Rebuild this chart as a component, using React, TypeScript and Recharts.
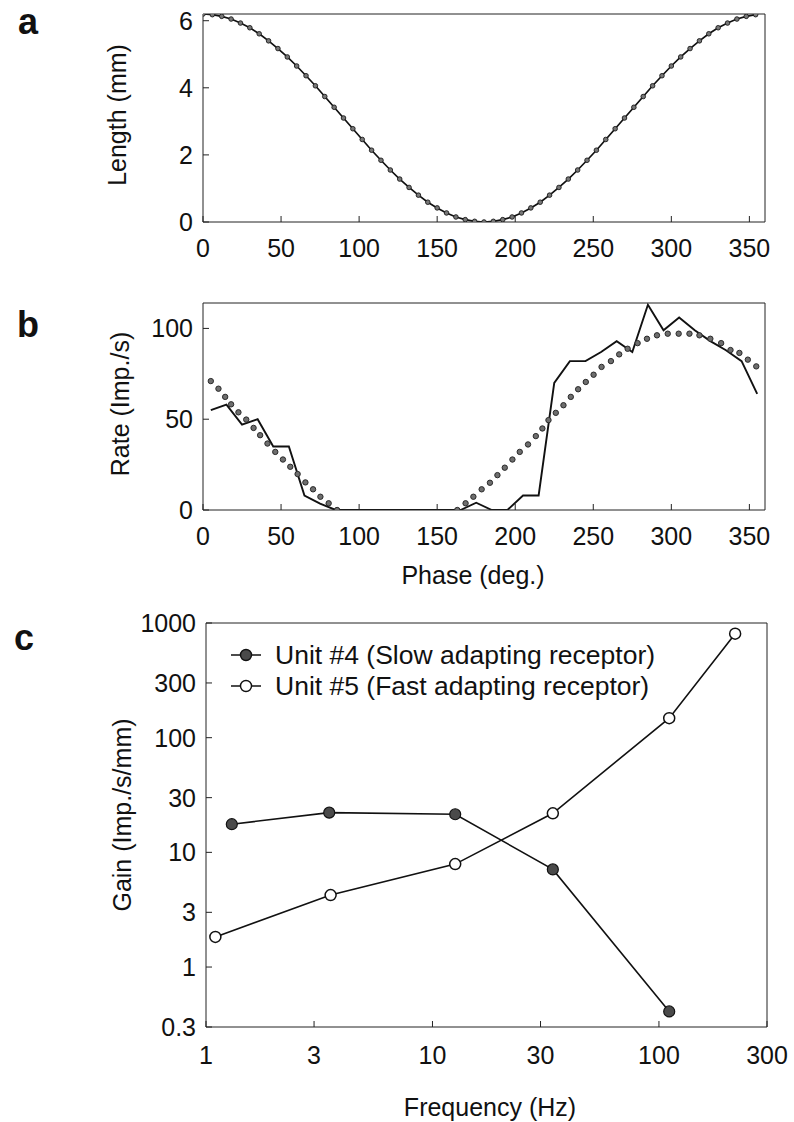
import React from 'react';
import { LineChart, Line, XAxis, YAxis } from 'recharts';

const FONT = "'Liberation Sans', Arial, Helvetica, sans-serif";

// Panel a: stimulus length vs phase
const lengthPhase = [0, 6, 12, 18, 24, 30, 36, 42, 48, 54, 60, 66, 72, 78, 84, 90, 96, 102, 108, 114, 120, 126, 132, 138, 144, 150, 156, 162, 168, 174, 180, 186, 192, 198, 204, 210, 216, 222, 228, 234, 240, 246, 252, 258, 264, 270, 276, 282, 288, 294, 300, 306, 312, 318, 324, 330, 336, 342, 348, 354];
const lengthMm = [6.2, 6.18, 6.13, 6.05, 5.93, 5.79, 5.61, 5.4, 5.17, 4.92, 4.65, 4.36, 4.06, 3.74, 3.42, 3.1, 2.78, 2.46, 2.14, 1.84, 1.55, 1.28, 1.03, 0.8, 0.59, 0.42, 0.27, 0.15, 0.07, 0.02, 0.0, 0.02, 0.07, 0.15, 0.27, 0.42, 0.59, 0.8, 1.03, 1.28, 1.55, 1.84, 2.14, 2.46, 2.78, 3.1, 3.42, 3.74, 4.06, 4.36, 4.65, 4.92, 5.17, 5.4, 5.61, 5.79, 5.93, 6.05, 6.13, 6.18];

// Panel b: firing rate (measured) and fitted rate
const ratePhase = [5, 15, 25, 35, 45, 55, 65, 75, 85, 95, 105, 115, 125, 135, 145, 155, 165, 175, 185, 195, 205, 215, 225, 235, 245, 255, 265, 275, 285, 295, 305, 315, 325, 335, 345, 355];
const rateImp = [55, 58, 47, 50, 35, 35, 8, 3.5, 0, 0, 0, 0, 0, 0, 0, 0, 0, 4, 0, 0, 8, 8, 70, 82, 82, 87, 93, 87, 113, 99, 106, 99, 93, 88, 82, 64];
const fitPhase = [5, 9.9, 14.2, 18, 22.7, 27.7, 32.4, 36.6, 41.3, 46.3, 51.2, 55.9, 60.6, 65.6, 70.5, 75.2, 80.5, 85.9, 162.9, 168.2, 173.2, 178.5, 183.8, 188.6, 193.3, 198.2, 202.9, 208.2, 213.2, 217.4, 221.3, 226, 230.9, 235.6, 240.3, 245.2, 250.2, 255.3, 261.3, 266.6, 272, 278.4, 284.4, 290.8, 297.7, 304.7, 311.6, 318, 325, 331.9, 337.9, 343.6, 349, 354.4];
const fitRate = [71, 66.8, 62.3, 58.2, 53.8, 49.8, 45.2, 41.2, 36.6, 32, 27.8, 23.8, 19.8, 15.2, 11.4, 7.3, 3.7, 0, 0, 3.7, 7.3, 11.4, 15, 19.2, 23.3, 27.8, 32, 36.1, 40.7, 44.9, 49.5, 53.5, 57.7, 62.3, 66.5, 70.5, 74.5, 78.8, 82, 85.7, 88.8, 91.9, 94.3, 96.2, 97.1, 97.1, 97.1, 96.2, 94.3, 91.9, 88.1, 86.5, 82.8, 79.1];

const phaseTicks = [0, 50, 100, 150, 200, 250, 300, 350];
const lengthTicks = [0, 2, 4, 6];
const rateTicks = [0, 50, 100];

// Panel c: gain vs frequency
const unit4Freq = [1.3, 3.5, 12.6, 34, 111];
const unit4Gain = [17.6, 22.2, 21.5, 7.1, 0.41];
const unit5Freq = [1.1, 3.55, 12.6, 34, 111, 217];
const unit5Gain = [1.83, 4.24, 7.9, 21.9, 148, 807];
const freqTicks = [1, 3, 10, 30, 100, 300];
const gainTicks = [0.3, 1, 3, 10, 30, 100, 300, 1000];

const legendLabels = ['Unit #4 (Slow adapting receptor)', 'Unit #5 (Fast adapting receptor)'];

const zip = (xs: number[], ys: number[]) => xs.map((x, i) => ({ x, y: ys[i] }));

const aData = zip(lengthPhase, lengthMm);
const bData = zip(ratePhase, rateImp);
const bFit = zip(fitPhase, fitRate);
const c4 = zip(unit4Freq, unit4Gain);
const c5 = zip(unit5Freq, unit5Gain);

const AX = '#222';
const tickStyle = { fontSize: 25, fill: '#111', fontFamily: FONT };

const Txt = ({ x, y, children, size = 25, bold = false, rotate = false }: any) => (
  <div
    style={{
      position: 'absolute',
      left: x,
      top: y,
      transform: `translate(-50%, -50%)${rotate ? ' rotate(-90deg)' : ''}`,
      fontSize: size,
      fontWeight: bold ? 700 : 400,
      fontFamily: FONT,
      whiteSpace: 'nowrap',
      color: '#111',
      lineHeight: 1,
    }}
  >
    {children}
  </div>
);

export default function App() {
  return (
    <div style={{ position: 'absolute', left: 0, top: 0, width: 794, height: 1122, background: '#fff' }}>
      {/* Panel a */}
      <div style={{ position: 'absolute', left: 0, top: 0 }}>
        <LineChart width={794} height={270} margin={{ top: 14, right: 29, bottom: 0, left: 0 }}>
          <XAxis type="number" dataKey="x" domain={[0, 360]} ticks={phaseTicks} interval={0} height={48}
            tickSize={-6} tickMargin={23} stroke={AX} tick={tickStyle} allowDataOverflow />
          <XAxis xAxisId="t" type="number" dataKey="x" orientation="top" mirror domain={[0, 360]} ticks={phaseTicks}
            interval={0} tick={false} tickSize={6} stroke={AX} allowDataOverflow />
          <YAxis type="number" dataKey="y" domain={[0, 6.2]} ticks={lengthTicks} interval={0} width={203}
            tickSize={-6} tickMargin={16} stroke={AX} tick={tickStyle} allowDataOverflow />
          <YAxis yAxisId="r" type="number" orientation="right" mirror domain={[0, 6.2]} ticks={lengthTicks}
            interval={0} tick={false} tickSize={6} stroke={AX} allowDataOverflow />
          <Line data={aData} dataKey="y" type="linear" stroke="#111" strokeWidth={1.7}
            dot={{ r: 2.3, fill: '#777', stroke: '#1a1a1a', strokeWidth: 0.9 }} isAnimationActive={false} />
        </LineChart>
      </div>

      {/* Panel b */}
      <div style={{ position: 'absolute', left: 0, top: 280 }}>
        <LineChart width={794} height={278} margin={{ top: 23, right: 29, bottom: 0, left: 0 }}>
          <XAxis type="number" dataKey="x" domain={[0, 360]} ticks={phaseTicks} interval={0} height={48}
            tickSize={-6} tickMargin={23} stroke={AX} tick={tickStyle} allowDataOverflow />
          <XAxis xAxisId="t" type="number" dataKey="x" orientation="top" mirror domain={[0, 360]} ticks={phaseTicks}
            interval={0} tick={false} tickSize={6} stroke={AX} allowDataOverflow />
          <YAxis type="number" dataKey="y" domain={[0, 114]} ticks={rateTicks} interval={0} width={203}
            tickSize={-6} tickMargin={16} stroke={AX} tick={tickStyle} allowDataOverflow />
          <YAxis yAxisId="r" type="number" orientation="right" mirror domain={[0, 114]} ticks={rateTicks}
            interval={0} tick={false} tickSize={6} stroke={AX} allowDataOverflow />
          <Line data={bData} dataKey="y" type="linear" stroke="#111" strokeWidth={1.9} dot={false}
            isAnimationActive={false} />
          <Line data={bFit} dataKey="y" type="linear" stroke="none"
            dot={{ r: 2.7, fill: '#6e6e6e', stroke: '#2a2a2a', strokeWidth: 1 }} isAnimationActive={false} />
        </LineChart>
      </div>

      {/* Panel c */}
      <div style={{ position: 'absolute', left: 0, top: 600 }}>
        <LineChart width={794} height={480} margin={{ top: 23, right: 27, bottom: 0, left: 0 }}>
          <XAxis type="number" dataKey="x" scale="log" domain={[1, 300]} ticks={freqTicks} interval={0} height={53}
            tickSize={-6} tickMargin={25} stroke={AX} tick={tickStyle} allowDataOverflow />
          <XAxis xAxisId="t" type="number" dataKey="x" scale="log" orientation="top" mirror domain={[1, 300]}
            ticks={freqTicks} interval={0} tick={false} tickSize={6} stroke={AX} allowDataOverflow />
          <YAxis type="number" dataKey="y" scale="log" domain={[0.3, 1000]} ticks={gainTicks} interval={0} width={206}
            tickSize={-6} tickMargin={16} stroke={AX} tick={tickStyle} allowDataOverflow />
          <YAxis yAxisId="r" type="number" scale="log" orientation="right" mirror domain={[0.3, 1000]}
            ticks={gainTicks} interval={0} tick={false} tickSize={6} stroke={AX} allowDataOverflow />
          <Line data={c4} dataKey="y" type="linear" stroke="#111" strokeWidth={1.6}
            dot={{ r: 5.5, fill: '#4a4a4a', stroke: '#111', strokeWidth: 1.2 }} isAnimationActive={false} />
          <Line data={c5} dataKey="y" type="linear" stroke="#111" strokeWidth={1.6}
            dot={{ r: 5.5, fill: '#fff', stroke: '#111', strokeWidth: 1.5 }} isAnimationActive={false} />
        </LineChart>
      </div>

      {/* Legend for panel c */}
      {legendLabels.map((lab, i) => (
        <div key={lab} style={{ position: 'absolute', left: 229, top: 641 + i * 31, height: 28, display: 'flex', alignItems: 'center' }}>
          <svg width={34} height={28}>
            <line x1={2} y1={14} x2={32} y2={14} stroke="#111" strokeWidth={1.5} />
            <circle cx={17} cy={14} r={5.5} fill={i === 0 ? '#4a4a4a' : '#fff'} stroke="#111" strokeWidth={1.4} />
          </svg>
          <span style={{ marginLeft: 12, fontSize: 26.5, fontFamily: FONT, color: '#111', whiteSpace: 'nowrap' }}>{lab}</span>
        </div>
      ))}

      {/* Panel letters */}
      <Txt x={28} y={22} size={36} bold>a</Txt>
      <Txt x={28} y={325} size={36} bold>b</Txt>
      <Txt x={24} y={638} size={36} bold>c</Txt>

      {/* Axis titles */}
      <Txt x={117} y={115} rotate>Length (mm)</Txt>
      <Txt x={120} y={404} rotate>Rate (Imp./s)</Txt>
      <Txt x={122} y={815} rotate>Gain (Imp./s/mm)</Txt>
      <Txt x={473} y={575}>Phase (deg.)</Txt>
      <Txt x={490} y={1107}>Frequency (Hz)</Txt>
    </div>
  );
}
